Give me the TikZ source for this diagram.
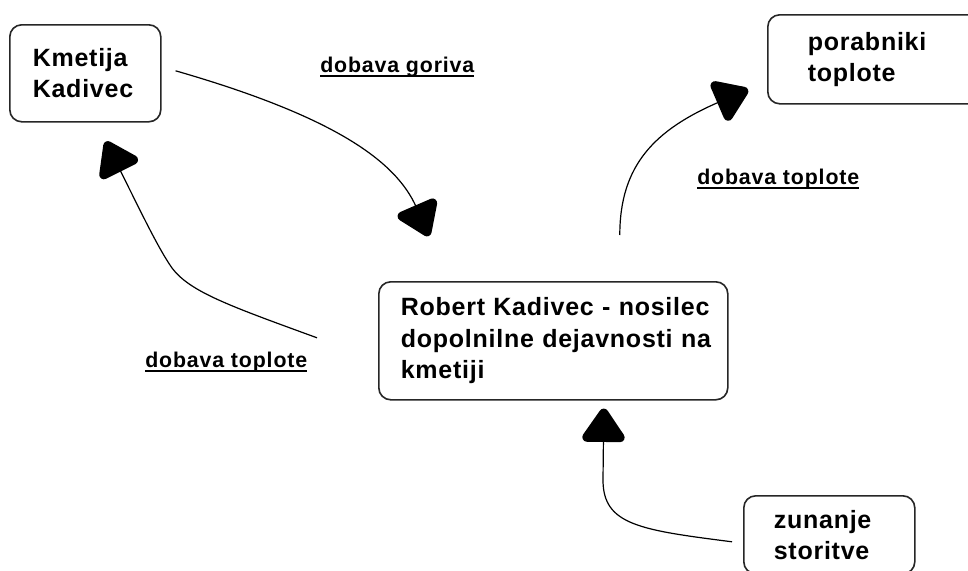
\documentclass[tikz,border=0pt]{standalone}
\usepackage{fontspec}
\setmainfont{Liberation Sans}
\newfontfamily\boxfam{Liberation Sans}[LetterSpace=3]
\newfontfamily\lblfam{Liberation Sans}[LetterSpace=4]
\usetikzlibrary{arrows.meta,calc}
\newcommand\boxfont{\boxfam\bfseries\fontsize{18.75}{23.6}\selectfont}
\newcommand\lblfont{\lblfam\bfseries\fontsize{16}{19}\selectfont}
\newcommand\ulabel[1]{\setbox0\hbox{#1}\rlap{\rule[-3.8pt]{\wd0}{1.2pt}}\box0}
\tikzset{
  box/.style={draw=black!85, line width=1.2pt, rounded corners=9pt, anchor=north west,
    align=left, font=\boxfont, inner ysep=0pt},
  lbl/.style={anchor=base west, inner sep=0pt, font=\lblfont},
  flow/.style={line width=0.9pt, black,
    -{Triangle[width=36pt,length=28pt,line width=7pt,round]}},
}
\begin{document}
\begin{tikzpicture}[x=0.75pt,y=-0.75pt]
\fill[white] (0,0) rectangle (968,571);
\useasboundingbox (0,0) rectangle (968,571);

\node[box, minimum width=113.25pt, minimum height=72.75pt, inner xsep=17.25pt, text width=78.75pt]
  (km) at (9,24) {\mbox{Kmetija}\\\mbox{Kadivec}};
\node[box, minimum width=159.75pt, minimum height=66.75pt, inner xsep=30pt, text width=99.75pt]
  (por) at (767,14) {\mbox{porabniki}\\\mbox{toplote}};
\node[box, minimum width=261.75pt, minimum height=88.5pt, inner xsep=16.5pt, text width=228.75pt]
  (rob) at (378,281) {\mbox{Robert Kadivec - nosilec}\\\mbox{dopolnilne dejavnosti na}\\\mbox{kmetiji}};
\node[box, minimum width=128.25pt, minimum height=58.5pt, inner xsep=22.5pt, text width=83.25pt]
  (zun) at (743,495) {\mbox{zunanje}\\\mbox{storitve}};

\node[lbl] (lg) at (320,72) {\ulabel{dobava goriva}};
\node[lbl] (lr) at (697,184) {\ulabel{dobava toplote}};
\node[lbl] (ll) at (145,367) {\ulabel{dobava toplote}};

\coordinate (g0) at ($(km.east)+(14,-2.5)$);
\coordinate (g1) at ($(rob.north)+(-124.5,-45)$);
\draw[flow] (g0) .. controls +(156,45) and +(-33,-76) .. (g1);

\coordinate (l0) at ($(rob.west)+(-61,-3)$);
\coordinate (l1) at ($(km.south)+(20.5,19)$);
\draw[flow] (l0) .. controls (230,306) and (190,292) .. (172,268)
  .. controls (158,248) and (140,210) .. (l1);

\coordinate (r0) at ($(rob.north)+(66.5,-46)$);
\coordinate (r1) at ($(por.south west)+(-19,-15)$);
\draw[flow] (r0) .. controls +(0,-70) and +(-93,40) .. (r1);

\coordinate (z0) at ($(zun.west)+(-11,7)$);
\coordinate (z1) at ($(rob.south)+(50.5,8)$);
\draw[flow] (z0) .. controls (640,530) and (603,525) .. (603,480) -- (z1);
\end{tikzpicture}
\end{document}
